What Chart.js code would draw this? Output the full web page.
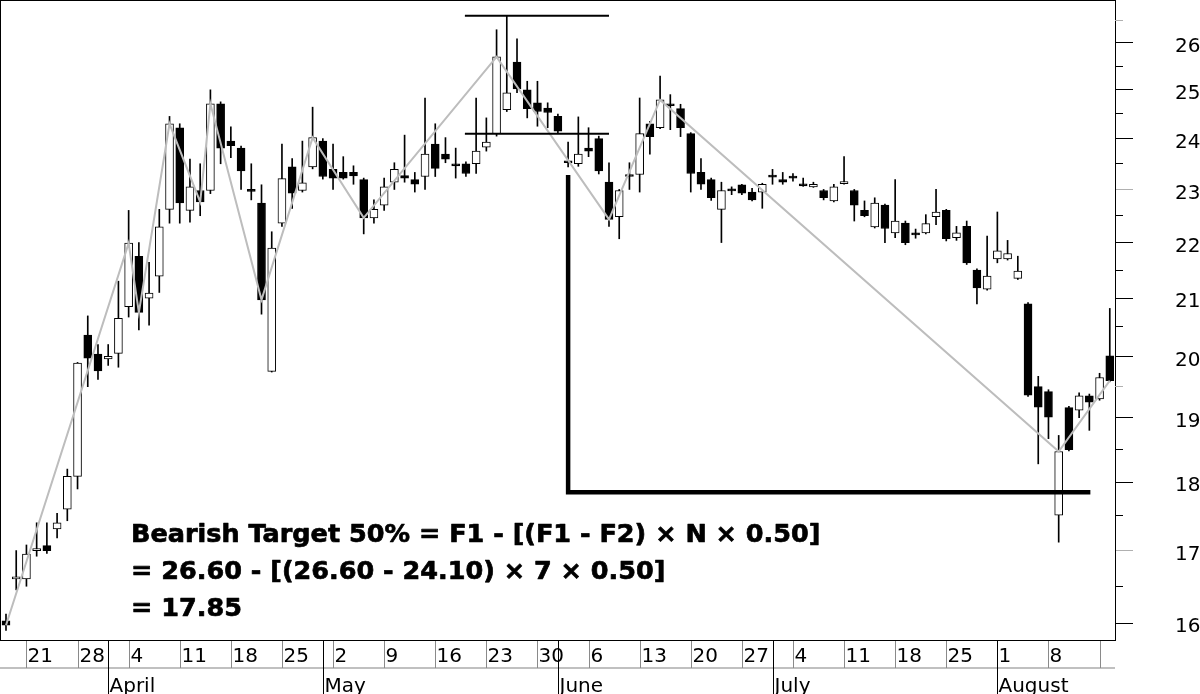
<!DOCTYPE html>
<html><head><meta charset="utf-8">
<script src="https://cdn.jsdelivr.net/npm/chart.js@4"></script>
<style>html,body{margin:0;padding:0;background:#fff;}canvas{display:block;}</style>
</head><body>
<canvas id="c" width="1200" height="694"></canvas>
<script>
// ---- data (one entry per trading day, index 0 = Thu 17 March) ----
const opens = [16.03,16.60,16.60,17.00,17.07,17.31,17.60,18.09,20.36,20.04,
19.96,20.05,20.85,21.75,21.00,21.39,22.62,24.22,22.60,22.98,
22.98,24.71,23.95,23.81,23.00,22.74,19.75,22.36,23.44,22.98,
23.44,23.95,23.39,23.33,23.33,23.19,22.46,22.70,23.14,23.27,
23.19,23.25,23.89,23.69,23.50,23.50,23.50,23.83,24.10,24.59,
25.59,25.00,24.73,24.62,24.45,23.56,23.50,23.81,24.00,23.14,
22.48,23.29,23.29,24.30,24.22,24.71,24.61,24.10,23.33,23.19,
22.62,23.01,23.09,22.95,22.95,23.28,23.19,23.26,23.11,23.05,
22.98,22.78,23.11,22.98,22.60,22.29,22.70,22.18,22.36,22.18,
22.18,22.48,22.60,22.09,22.30,21.50,21.16,21.70,21.70,21.35,
20.90,19.50,19.42,17.51,19.16,19.12,19.35,19.30,20.01];
const highs = [16.12,17.00,17.08,17.40,17.40,17.54,18.20,19.90,20.69,20.20,
20.20,21.30,22.60,22.00,21.64,22.62,24.45,24.30,23.59,23.50,
25.00,24.75,24.24,23.85,23.50,23.09,22.20,23.89,23.60,23.95,
24.64,24.00,23.89,23.64,23.46,23.22,22.80,23.22,23.52,24.07,
23.33,24.83,24.30,24.02,23.81,23.54,24.83,24.42,26.29,26.60,
26.09,25.18,25.18,24.73,24.50,23.93,24.44,24.22,24.05,23.52,
23.00,23.52,24.83,24.35,25.29,24.90,24.70,24.12,23.60,23.22,
23.14,23.05,23.10,23.02,23.12,23.39,23.33,23.31,23.22,23.14,
23.00,23.10,23.64,23.00,22.78,22.84,22.72,23.19,22.40,22.25,
22.52,23.00,22.62,22.30,22.40,21.52,22.12,22.57,22.04,21.75,
20.92,19.67,19.45,18.72,19.18,19.40,19.38,19.72,20.82];
const lows = [15.90,16.45,16.50,16.92,16.96,17.18,17.43,17.90,19.50,19.62,
19.85,19.82,20.67,20.45,20.53,21.10,22.36,22.36,22.38,22.50,
22.92,23.50,23.62,23.00,22.80,20.72,19.74,22.30,22.64,22.95,
23.40,23.20,23.00,23.20,23.10,22.16,22.36,22.60,23.00,23.14,
22.95,23.00,23.25,23.52,23.22,23.25,23.31,23.75,24.05,24.55,
24.94,24.42,24.25,24.22,24.12,23.44,23.45,23.64,23.30,22.30,
22.07,23.00,22.95,23.69,24.20,24.18,24.04,22.95,23.00,22.79,
22.00,22.90,22.90,22.78,22.64,23.10,23.10,23.16,23.06,23.04,
22.80,22.76,23.10,22.40,22.48,22.27,22.00,22.09,21.96,22.08,
22.16,22.33,22.03,22.04,21.60,20.90,21.14,21.63,21.68,21.33,
19.34,18.28,18.67,17.12,18.48,19.00,18.80,19.28,19.58];
const closes = [15.97,16.63,16.95,17.03,17.00,17.40,18.09,19.89,19.97,19.76,
20.00,20.65,21.99,20.75,21.09,22.29,24.30,22.74,23.05,22.76,
24.71,23.81,23.86,23.36,22.96,20.97,21.90,23.21,22.93,23.13,
24.02,23.25,23.22,23.22,23.26,22.46,22.62,23.05,23.39,23.22,
23.10,23.69,23.41,23.59,23.46,23.31,23.75,23.93,25.70,24.94,
25.02,24.61,24.55,24.53,24.15,23.52,23.69,23.75,23.36,22.43,
22.98,23.25,24.10,24.04,24.79,24.67,24.22,23.31,23.10,22.84,
22.98,22.97,22.93,22.80,23.10,23.24,23.14,23.22,23.07,23.10,
22.84,23.05,23.15,22.70,22.50,22.74,22.26,22.40,22.00,22.14,
22.35,22.57,22.07,22.18,21.63,21.18,21.39,21.85,21.80,21.48,
19.36,19.17,19.01,18.47,18.50,19.35,19.25,19.65,19.60];
const zigzagIdx = [0,12,13,16,19,20,25,30,35,48,59,64,103,108];
const yTickValues = [16,17,18,19,20,21,22,23,24,25,26];
const yMinorTicks = [16.5,17.5,18.5,19.5,20.5,21.5,22.5,23.5,24.5,25.5,26.5];
const weekTickIdx = [2,7,12,17,22,27,32,37,42,47,52,57,62,67,72,77,82,87,92,97,102,107];
const weekTickLabels = ['21','28','4','11','18','25','2','9','16','23','30','6','13','20','27','4','11','18','25','1','8',''];
const monthTickIdx = [10,31,54,75,97];
const monthLabels = ['April','May','June','July','August'];
const f1Value = 26.60, f2Value = 24.10, targetValue = 17.85;
const fibFromIdx = 44.9, fibToIdx = 59.0;
const targetFromIdx = 55, targetToIdx = 106.1, targetTopValue = 23.28;
const noteLines = ['Bearish Target 50% = F1 - [(F1 - F2) \u00d7 N \u00d7 0.50]',
                   '= 26.60 - [(26.60 - 24.10) \u00d7 7 \u00d7 0.50]',
                   '= 17.85'];

const framePlugin = {
  id: 'frame',
  afterDraw(chart) {
    const ctx = chart.ctx, xs = chart.scales.x, ys = chart.scales.y;
    const a = chart.chartArea;
    ctx.save();
    ctx.fillStyle = '#000';
    ctx.fillRect(0, 0, Math.round(a.right) + 1, 1);
    ctx.fillRect(0, 0, 1, Math.round(a.bottom) + 1);
    ctx.fillRect(0, Math.round(a.bottom), Math.round(a.right) + 1, 1);
    // minor ticks on price axis
    yMinorTicks.forEach(v => {
      const y = Math.floor(ys.getPixelForValue(v));
      ctx.fillStyle = (v === 26.5 || v === 19.5) ? '#b0b0b0' : '#000';
      ctx.fillRect(Math.round(a.right), y, 8, 1);
    });
    // date axis
    const b = Math.round(a.bottom);
    ctx.fillStyle = '#c0c0c0';
    ctx.fillRect(0, b + 27, Math.round(a.right), 2);
    ctx.font = '20px "DejaVu Sans"';
    ctx.textBaseline = 'alphabetic';
    ctx.textAlign = 'left';
    weekTickIdx.forEach((i, k) => {
      const x = Math.round(xs.getPixelForValue(i));
      ctx.fillStyle = '#8a8a8a';
      ctx.fillRect(x, b + 1, 1, 27);
      ctx.fillStyle = '#000';
      ctx.fillText(weekTickLabels[k], x + 1.5, b + 22);
    });
    monthTickIdx.forEach((i, k) => {
      const x = Math.round(xs.getPixelForValue(i));
      ctx.fillStyle = '#000';
      ctx.fillRect(x, b + 1, 1, 60);
      ctx.fillText(monthLabels[k], x + 1.5, b + 52);
    });
    // annotation text
    ctx.font = 'bold 25.5px "DejaVu Sans"';
    ctx.fillStyle = '#000';
    ctx.strokeStyle = '#000';
    ctx.lineWidth = 0.7;
    ctx.lineJoin = 'round';
    const base = [542, 579, 616];
    noteLines.forEach((t, k) => { ctx.fillText(t, 131, base[k]); ctx.strokeText(t, 131, base[k]); });
    ctx.restore();
  }
};

new Chart(document.getElementById('c'), {
  type: 'bar',
  data: {
    datasets: [
      {
        type: 'bar', order: 5, grouped: false, barThickness: 1,
        data: highs.map((h, i) => ({x: i, y: [lows[i], h]})),
        backgroundColor: '#000', borderWidth: 0
      },
      {
        type: 'bar', order: 4, grouped: false, barThickness: 8,
        data: opens.map((o, i) => ({x: i, y: [Math.min(o, closes[i]), Math.max(o, closes[i])]})),
        backgroundColor: c => (closes[c.dataIndex] > opens[c.dataIndex] ? '#fff' : '#000'),
        borderColor: '#000', borderWidth: 1, borderSkipped: false
      },
      {
        type: 'line', order: 3,
        data: zigzagIdx.map(i => ({x: i, y: closes[i]})),
        borderColor: '#bdbdbd', borderWidth: 2, pointRadius: 0, tension: 0, fill: false
      },
      {
        type: 'line', order: 2,
        data: [{x: fibFromIdx, y: f1Value}, {x: fibToIdx, y: f1Value}],
        borderColor: '#000', borderWidth: 2, pointRadius: 0, fill: false
      },
      {
        type: 'line', order: 2,
        data: [{x: fibFromIdx, y: f2Value}, {x: fibToIdx, y: f2Value}],
        borderColor: '#000', borderWidth: 2, pointRadius: 0, fill: false
      },
      {
        type: 'line', order: 1,
        data: [{x: targetFromIdx, y: targetTopValue}, {x: targetFromIdx, y: targetValue}, {x: targetToIdx, y: targetValue}],
        borderColor: '#000', borderWidth: 4.5, pointRadius: 0, fill: false,
        borderJoinStyle: 'miter', borderCapStyle: 'butt'
      }
    ]
  },
  options: {
    responsive: false, animation: false, devicePixelRatio: 1,
    layout: {padding: {left: 1, top: 1, right: 0, bottom: 54}},
    plugins: {legend: {display: false}, tooltip: {enabled: false}},
    scales: {
      x: {type: 'linear', display: false, min: -0.489, max: 108.51, offset: false, grid: {display: false}},
      y: {
        type: 'logarithmic', position: 'right', min: 15.774, max: 26.93, bounds: 'data',
        afterBuildTicks: s => { s.ticks = yTickValues.map(v => ({value: v})); },
        afterFit: s => { s.width = 85; s.paddingTop = 0; s.paddingBottom = 0; },
        grid: {drawOnChartArea: false, drawTicks: true, tickLength: 18, tickWidth: 1,
               tickColor: c => ((c.tick && (c.tick.value === 23 || c.tick.value === 17)) ? '#b0b0b0' : '#000')},
        border: {display: true, color: '#000', width: 1},
        ticks: {callback: v => String(v), color: '#000', font: {family: 'DejaVu Sans', size: 20},
                padding: 42, labelOffset: 4, autoSkip: false, maxRotation: 0}
      }
    }
  },
  plugins: [framePlugin]
});
</script>
</body></html>
